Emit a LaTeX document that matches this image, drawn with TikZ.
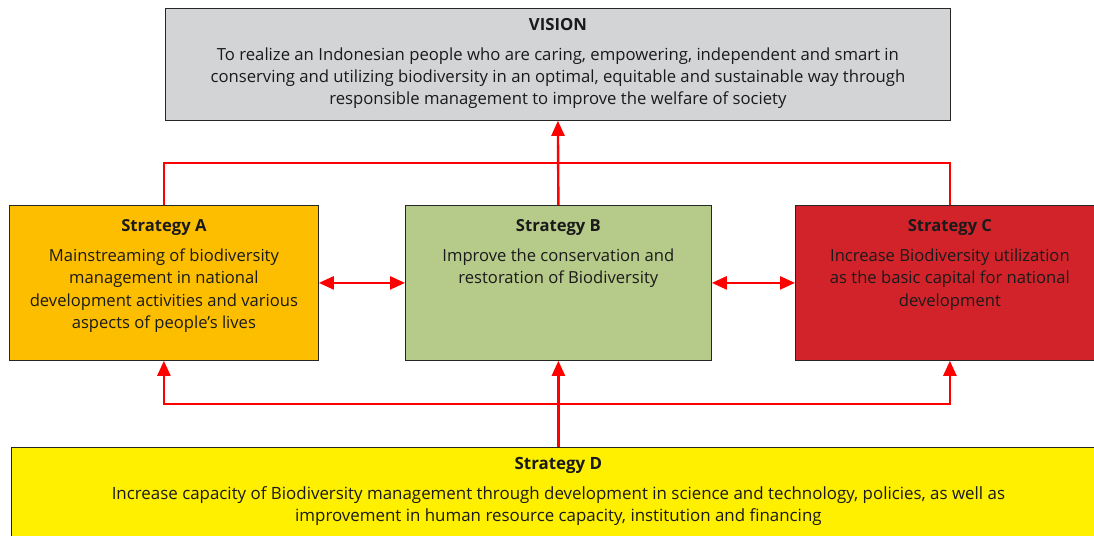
\documentclass[tikz,border=0pt]{standalone}
\usepackage{fontspec}
\setmainfont{Open Sans}
\usetikzlibrary{arrows.meta}
\definecolor{visiongray}{HTML}{D3D4D6}
\definecolor{strata}{HTML}{FDBE00}
\definecolor{stratb}{HTML}{B6CA8A}
\definecolor{stratc}{HTML}{D2232B}
\definecolor{stratd}{HTML}{FFF000}
\definecolor{linkred}{HTML}{FF0000}
\definecolor{ink}{HTML}{1A1A1A}
\begin{document}
\begin{tikzpicture}[x=1pt,y=-1pt,
  panel/.style={draw=black!85, line width=0.8pt, anchor=north west, inner sep=0pt},
  panetext/.style={anchor=north, align=center, text=ink, font=\fontsize{16.6}{22.5}\selectfont, inner sep=0pt},
  link/.style={draw=linkred, line width=2.4pt},
  tip/.style={-{Triangle[length=15pt,width=13pt]}},
  tips/.style={{Triangle[length=15pt,width=13pt]}-{Triangle[length=15pt,width=13pt]}}
]
\clip (0,0) rectangle (1094,535);
\fill[white] (0,0) rectangle (1094,535);

% boxes
\node[panel, fill=visiongray, minimum width=785pt, minimum height=112pt] (V) at (165,8) {};
\node[panel, fill=strata, minimum width=309pt, minimum height=155pt] (A) at (9,205) {};
\node[panel, fill=stratb, minimum width=306pt, minimum height=155pt] (B) at (405,205) {};
\node[panel, fill=stratc, minimum width=309pt, minimum height=155pt] (C) at (795,205) {};
\node[panel, fill=stratd, minimum width=1098pt, minimum height=110pt] (D) at (11,447) {};

% texts
\node[panetext, font=\fontsize{16.7}{22}\selectfont] (Vt) at ([yshift=-10pt]V.north)
  {\textbf{VISION}\\[8pt]
   To realize an Indonesian people who are caring, empowering, independent and smart in\\
   conserving and utilizing biodiversity in an optimal, equitable and sustainable way through\\
   responsible management to improve the welfare of society};
\node[panetext] (At) at ([yshift=-14pt]A.north)
  {\textbf{Strategy A}\\[7.5pt]
   Mainstreaming of biodiversity\\ management in national\\
   development activities and various\\ aspects of people's lives};
\node[panetext] (Bt) at ([yshift=-14pt]B.north)
  {\textbf{Strategy B}\\[7.5pt]
   Improve the conservation and\\ restoration of Biodiversity};
\node[panetext] (Ct) at ([yshift=-14pt]C.north)
  {\textbf{Strategy C}\\[7.5pt]
   Increase Biodiversity utilization\\ as the basic capital for national\\ development};
\node[panetext, font=\fontsize{16.9}{22.5}\selectfont] (Dt) at ([yshift=-10pt]D.north -| B.south)
  {\textbf{Strategy D}\\[7.5pt]
   Increase capacity of Biodiversity management through development in science and technology, policies, as well as\\
   improvement in human resource capacity, institution and financing};

% connectors
\coordinate (top) at (558,163);
\coordinate (bot) at (558,404);
\draw[link] (A.north) -- (A.north |- top) -- (C.north |- top) -- (C.north);
\draw[link, tip] (B.north) -- (V.south);
\draw[link, tips] (A.east) -- (B.west);
\draw[link, tips] (B.east) -- (C.west);
\draw[link, tip] (D.north -| B.south) -- (B.south);
\draw[link, tips] (A.south) -- (A.south |- bot) -- (C.south |- bot) -- (C.south);
\end{tikzpicture}
\end{document}
